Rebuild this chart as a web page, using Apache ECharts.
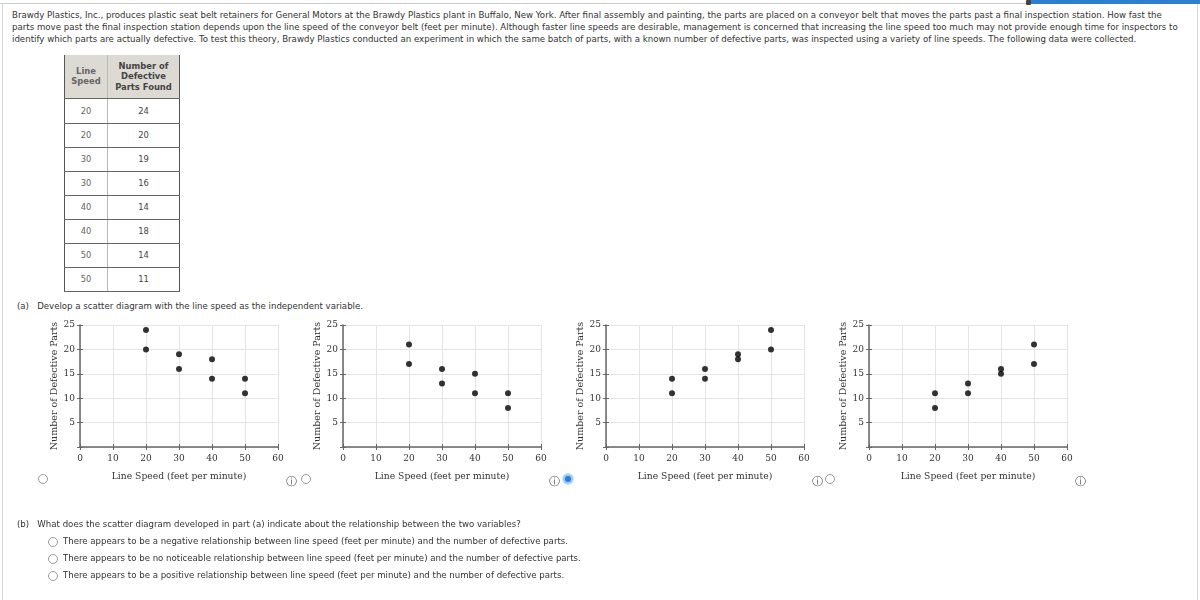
<!DOCTYPE html>
<html>
<head>
<meta charset="utf-8">
<script src="https://cdn.jsdelivr.net/npm/echarts@6/dist/echarts.min.js"></script>
<style>
  html, body { margin:0; padding:0; width:1200px; height:600px; background:#fff; overflow:hidden; }
  body { position:relative; font-family:"DejaVu Sans", Verdana, sans-serif; color:#333; }
  .abs { position:absolute; }
  .para { left:12px; top:9px; font-size:8.65px; line-height:12px; white-space:nowrap; color:#333; }
  table { border-collapse:collapse; font-size:8.4px; color:#555; }
  td, th { text-align:center; padding:0; border-bottom:1px solid #666; }
  th { background:#ddd9d3; font-weight:bold; line-height:10.5px; color:#555; }
  .c1 { width:42px; border-left:1px solid #555; border-right:1px solid #bbb; color:#666; }
  .c2 { width:71px; border-right:1px solid #555; color:#444; }
  .radio { width:8px; height:8px; border:1px solid #999; border-radius:50%; background:#fff; }
  .sel { width:6px; height:6px; border:2px solid #9ec9f0; background:#2c7cd1; border-radius:50%; box-shadow:0 0 0 1px #cfe4f8; }
  .info { font-size:11px; color:#555; line-height:12px; }
  .opt { font-size:8.6px; color:#333; white-space:nowrap; }
  #chart { position:absolute; left:0; top:0; width:1200px; height:600px; }
</style>
</head>
<body>
<div class="abs" style="left:0;top:3px;width:1028px;height:1px;background:#ccc"></div>
<div class="abs" style="left:1030px;top:0;width:170px;height:4px;background:#2f7fd0"></div>
<div class="abs" style="left:1026px;top:0;width:5px;height:5px;background:#444;border-radius:1px"></div>
<div class="abs" style="left:2px;top:3px;width:1px;height:597px;background:#d6d6d6"></div>
<div class="abs" style="left:1197px;top:4px;width:1px;height:596px;background:#d6d6d6"></div>

<div class="abs para">Brawdy Plastics, Inc., produces plastic seat belt retainers for General Motors at the Brawdy Plastics plant in Buffalo, New York. After final assembly and painting, the parts are placed on a conveyor belt that moves the parts past a final inspection station. How fast the<br>parts move past the final inspection station depends upon the line speed of the conveyor belt (feet per minute). Although faster line speeds are desirable, management is concerned that increasing the line speed too much may not provide enough time for inspectors to<br>identify which parts are actually defective. To test this theory, Brawdy Plastics conducted an experiment in which the same batch of parts, with a known number of defective parts, was inspected using a variety of line speeds. The following data were collected.</div>

<table class="abs" id="tbl" style="left:64px;top:55px;"></table>

<div class="abs opt" style="left:17px;top:301px;">(a)&nbsp;&nbsp;&nbsp;Develop a scatter diagram with the line speed as the independent variable.</div>

<div id="chart"></div>

<div class="abs radio" style="left:38px;top:474px;"></div>
<div class="abs info" style="left:286px;top:476px;">ⓘ</div>
<div class="abs radio" style="left:301px;top:474px;"></div>
<div class="abs info" style="left:549px;top:476px;">ⓘ</div>
<div class="abs sel" style="left:563px;top:474px;"></div>
<div class="abs info" style="left:812px;top:476px;">ⓘ</div>
<div class="abs radio" style="left:825px;top:474px;"></div>
<div class="abs info" style="left:1075px;top:476px;">ⓘ</div>

<div class="abs opt" style="left:17px;top:519px;">(b)&nbsp;&nbsp;&nbsp;What does the scatter diagram developed in part (a) indicate about the relationship between the two variables?</div>
<div class="abs radio" style="left:48px;top:537px;"></div>
<div class="abs opt" style="left:63px;top:536px;">There appears to be a negative relationship between line speed (feet per minute) and the number of defective parts.</div>
<div class="abs radio" style="left:48px;top:554px;"></div>
<div class="abs opt" style="left:63px;top:553px;">There appears to be no noticeable relationship between line speed (feet per minute) and the number of defective parts.</div>
<div class="abs radio" style="left:48px;top:571px;"></div>
<div class="abs opt" style="left:63px;top:570px;">There appears to be a positive relationship between line speed (feet per minute) and the number of defective parts.</div>

<script>
// Table data
const lineSpeed = [20, 20, 30, 30, 40, 40, 50, 50];
const defectiveFound = [24, 20, 19, 16, 14, 18, 14, 11];

// Scatter option data (x = line speed, y = defective parts)
const xSpeeds = [20, 20, 30, 30, 40, 40, 50, 50];
const optionA = [24, 20, 19, 16, 18, 14, 14, 11];
const optionB = [21, 17, 16, 13, 15, 11, 11, 8];
const optionC = [14, 11, 16, 14, 19, 18, 24, 20];
const optionD = [11, 8, 13, 11, 16, 15, 21, 17];
const xTicks = [0, 10, 20, 30, 40, 50, 60];
const yTicks = [5, 10, 15, 20, 25];

// Build table
const tbl = document.getElementById('tbl');
let html = '<tr style="height:43px"><th class="c1">Line<br>Speed</th><th class="c2">Number of<br>Defective<br>Parts Found</th></tr>';
lineSpeed.forEach((s, i) => {
  const h = i === 0 ? 25 : 24;
  html += '<tr style="height:' + h + 'px"><td class="c1">' + s + '</td><td class="c2">' + defectiveFound[i] + '</td></tr>';
});
tbl.innerHTML = html;

const chart = echarts.init(document.getElementById('chart'), null, {renderer: 'canvas'});
const sets = [optionA, optionB, optionC, optionD];
const lefts = [80, 343, 606, 869];
const serif = '"DejaVu Serif", "Liberation Serif", serif';
const grids = [], xAxes = [], yAxes = [], series = [];
sets.forEach((vals, i) => {
  grids.push({left: lefts[i], top: 325, width: 198, height: 122, containLabel: false});
  const axisLine = {show: true, lineStyle: {color: '#666', width: 1.5}};
  xAxes.push({
    type: 'value', gridIndex: i, min: xTicks[0], max: xTicks[xTicks.length - 1], interval: 10,
    position: 'bottom',
    name: 'Line Speed (feet per minute)', nameLocation: 'middle', nameGap: 25,
    nameTextStyle: {fontFamily: serif, fontSize: 9.2, color: '#333'},
    axisLine: axisLine,
    axisTick: {show: true, length: 3, lineStyle: {color: '#666'}},
    axisLabel: {fontFamily: serif, fontSize: 9, color: '#333', margin: 7},
    splitLine: {show: true, lineStyle: {color: '#e4e4e4', width: 1}}
  });
  xAxes.push({
    type: 'value', gridIndex: i, min: xTicks[0], max: xTicks[xTicks.length - 1], interval: 10,
    position: 'bottom', axisLine: {show: false},
    axisTick: {show: true, inside: true, length: 3, lineStyle: {color: '#666'}},
    axisLabel: {show: false}, splitLine: {show: false}
  });
  yAxes.push({
    type: 'value', gridIndex: i, min: 0, max: yTicks[yTicks.length - 1], interval: 5,
    position: 'left',
    name: 'Number of Defective Parts', nameLocation: 'middle', nameGap: 17,
    nameTextStyle: {fontFamily: serif, fontSize: 9.5, color: '#333'},
    axisLine: axisLine,
    axisTick: {show: true, length: 3, lineStyle: {color: '#666'}},
    axisLabel: {fontFamily: serif, fontSize: 9, color: '#333', margin: 5,
      formatter: v => (yTicks.indexOf(v) >= 0 ? String(v) : '')},
    splitLine: {show: true, lineStyle: {color: '#e4e4e4', width: 1}}
  });
  yAxes.push({
    type: 'value', gridIndex: i, min: 0, max: yTicks[yTicks.length - 1], interval: 5,
    position: 'left', axisLine: {show: false},
    axisTick: {show: true, inside: true, length: 3, lineStyle: {color: '#666'}},
    axisLabel: {show: false}, splitLine: {show: false}
  });
  series.push({
    type: 'scatter', xAxisIndex: 2 * i, yAxisIndex: 2 * i,
    symbol: 'circle', symbolSize: 6,
    itemStyle: {color: '#000'},
    data: xSpeeds.map((x, k) => [x, vals[k]])
  });
});
chart.setOption({
  animation: false,
  backgroundColor: 'transparent',
  grid: grids, xAxis: xAxes, yAxis: yAxes, series: series
});
</script>
</body>
</html>
